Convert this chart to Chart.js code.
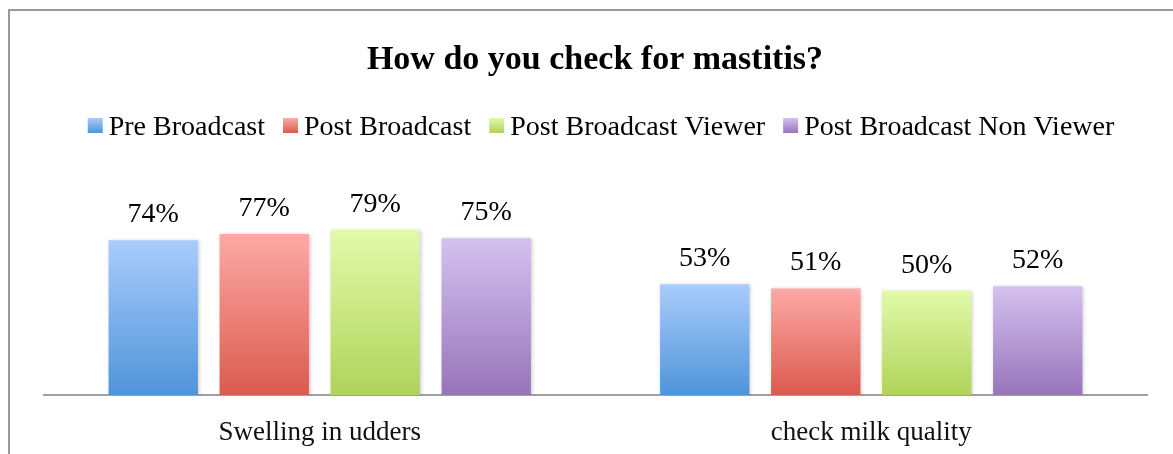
<!DOCTYPE html>
<html>
<head>
<meta charset="utf-8">
<script src="https://cdn.jsdelivr.net/npm/chart.js@4/dist/chart.umd.min.js"></script>
<style>
  html, body { margin: 0; padding: 0; background: #fff; }
  #wrap { position: relative; width: 1173px; height: 454px; overflow: hidden; }
  #frame { position: absolute; left: 8px; top: 9px; right: -10px; bottom: -10px;
           border-left: 2px solid #9a9a9a; border-top: 2px solid #9a9a9a; }
  #chart { position: absolute; left: 0; top: 0; }
</style>
</head>
<body>
<div id="wrap">
  <div id="frame"></div>
  <canvas id="chart" width="1173" height="454"></canvas>
</div>
<script>
const titleText = "How do you check for mastitis?";
const categories = ["Swelling in udders", "check milk quality"];
const seriesNames = ["Pre Broadcast", "Post Broadcast", "Post Broadcast Viewer", "Post Broadcast Non Viewer"];
const preBroadcast = [0.74, 0.53];
const postBroadcast = [0.77, 0.51];
const postViewer = [0.79, 0.50];
const postNonViewer = [0.75, 0.52];

// light top / dark bottom for each series
const shades = [
  ["#a9cdfc", "#4f94d9"],
  ["#fdaaa6", "#db5a4e"],
  ["#e2faaa", "#b0d35a"],
  ["#d5c1ef", "#9675ba"]
];

const serifFont = "'Liberation Serif', 'Times New Roman', serif";

function barGradient(idx) {
  return (ctx) => {
    const chart = ctx.chart;
    if (!chart.chartArea || ctx.type !== "data") return shades[idx][1];
    const yScale = chart.scales.y;
    const top = yScale.getPixelForValue(ctx.raw);
    const base = yScale.getPixelForValue(0);
    const g = chart.ctx.createLinearGradient(0, top, 0, base);
    g.addColorStop(0, shades[idx][0]);
    g.addColorStop(1, shades[idx][1]);
    return g;
  };
}

const seriesValues = [preBroadcast, postBroadcast, postViewer, postNonViewer];

const datasets = seriesNames.map((name, i) => ({
  label: name,
  data: seriesValues[i],
  backgroundColor: barGradient(i),
  borderWidth: 0,
  barPercentage: 0.805,
  categoryPercentage: 0.805
}));

// title, legend and value labels drawn on the canvas
const decorations = {
  id: "decorations",
  beforeDatasetsDraw(chart) {
    const c = chart.ctx;
    c.save();
    c.shadowColor = "rgba(0,0,0,0.22)";
    c.shadowBlur = 4;
    c.shadowOffsetX = 1;
    c.shadowOffsetY = 1;
  },
  afterDatasetsDraw(chart) {
    const c = chart.ctx;
    c.restore();
    c.save();
    c.fillStyle = "#000";
    c.font = "28px " + serifFont;
    c.textAlign = "center";
    c.textBaseline = "alphabetic";
    chart.data.datasets.forEach((ds, i) => {
      chart.getDatasetMeta(i).data.forEach((bar, j) => {
        c.fillText(Math.round(ds.data[j] * 100) + "%", bar.x, bar.y - 18);
      });
    });
    c.restore();
  },
  afterDraw(chart) {
    const c = chart.ctx;
    c.save();
    c.fillStyle = "#000";
    c.textBaseline = "alphabetic";
    c.textAlign = "center";
    c.font = "bold 34px " + serifFont;
    c.fillText(titleText, 595, 69);

    // legend row
    c.font = "28px " + serifFont;
    c.textAlign = "left";
    const box = 15, gap = 6, spacing = 18;
    const widths = seriesNames.map(n => c.measureText(n).width);
    let total = 0;
    widths.forEach(w => total += box + gap + w);
    total += spacing * (seriesNames.length - 1);
    let x = 601 - total / 2;
    seriesNames.forEach((name, i) => {
      const g = c.createLinearGradient(0, 118, 0, 133);
      g.addColorStop(0, shades[i][0]);
      g.addColorStop(1, shades[i][1]);
      c.fillStyle = g;
      c.fillRect(x, 118, box, box);
      c.fillStyle = "#000";
      c.fillText(name, x + box + gap, 135);
      x += box + gap + widths[i] + spacing;
    });
    c.restore();
  }
};

new Chart(document.getElementById("chart"), {
  type: "bar",
  data: { labels: categories, datasets: datasets },
  options: {
    responsive: false,
    animation: false,
    layout: { padding: { left: 44, right: 26, top: 186, bottom: 0 } },
    plugins: {
      legend: { display: false },
      title: { display: false },
      tooltip: { enabled: false }
    },
    scales: {
      x: {
        grid: { display: false, drawTicks: false },
        border: { display: true, color: "#a0a0a0", width: 2 },
        ticks: { color: "#111", font: { family: serifFont, size: 27 }, padding: 22 },
        afterFit(scale) { scale.height = 59; }
      },
      y: {
        display: false,
        min: 0,
        max: 1
      }
    }
  },
  plugins: [decorations]
});
</script>
</body>
</html>
